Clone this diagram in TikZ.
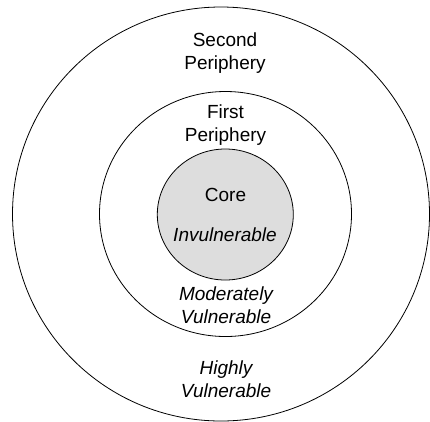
\documentclass[tikz,border=0pt]{standalone}
\usepackage{fontspec}
\setmainfont{Liberation Sans}
\usetikzlibrary{shapes.geometric}

\begin{document}
\begin{tikzpicture}[
      x=1pt, y=-1pt,
      ring/.style={ellipse, draw, line width=0.8pt, inner sep=0pt},
      every node/.style={font=\fontsize{19}{23}\selectfont, align=center},
      label/.style={anchor=base}
    ]
    \clip (0,0) rectangle (430,421);
    % three zones of vulnerability
    \node[ring, minimum width=417pt, minimum height=414pt] (outer) at (221,214) {};
    \node[ring, minimum width=252pt, minimum height=245pt] (middle) at (225.5,214) {};
    \node[ring, fill={rgb,255:red,221;green,221;blue,221}, minimum width=136pt, minimum height=131pt] (core) at (225.3,214.5) {};
    \node[label] (second) at (225,69) {Second\\Periphery};
    \node[label] (first) at (225.5,141) {First\\Periphery};
    \node[label] (corename) at (225.5,201.3) {Core};
    \node[label] (invul) at (225,241.3) {\itshape Invulnerable};
    \node[label] (moder) at (226,323) {\itshape Moderately\\\itshape Vulnerable};
    \node[label] (highly) at (226,397) {\itshape Highly\\\itshape Vulnerable};
  \end{tikzpicture}
\end{document}
